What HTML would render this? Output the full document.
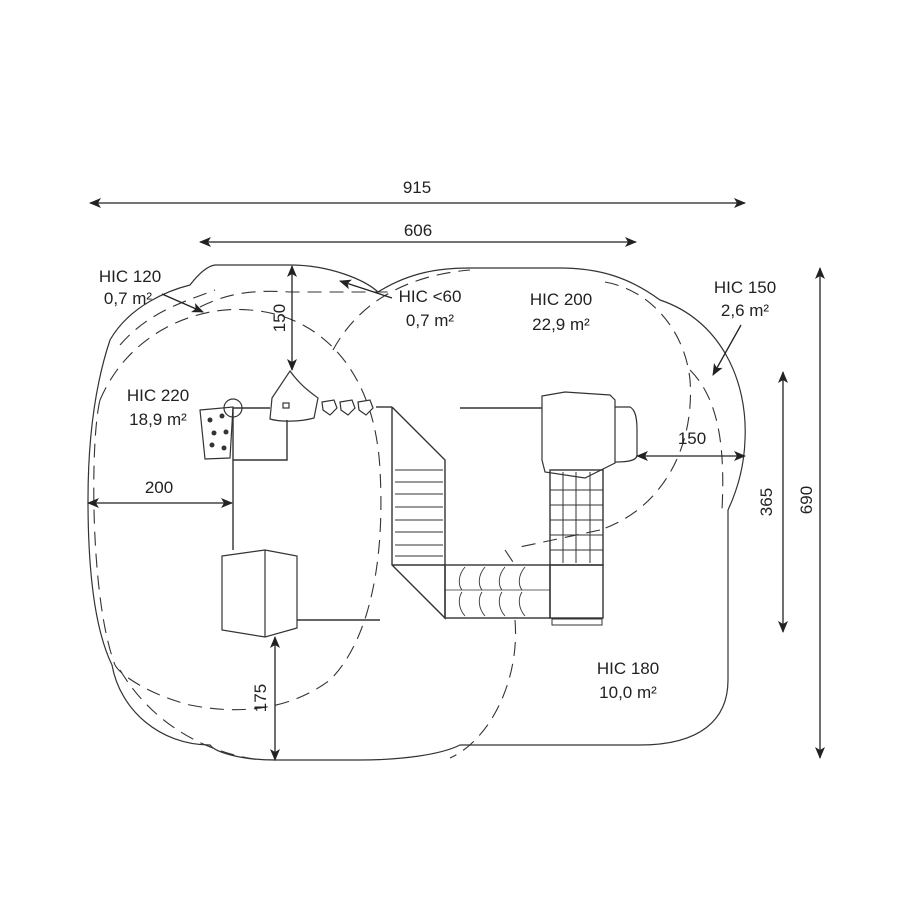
<!DOCTYPE html>
<html><head><meta charset="utf-8"><style>
html,body{margin:0;padding:0;background:#fff}
svg{display:block}
text{font-family:"Liberation Sans",sans-serif;font-size:17px;fill:#222}
</style></head><body>
<svg width="900" height="900" viewBox="0 0 900 900" xmlns="http://www.w3.org/2000/svg">
<defs>
<marker id="a" markerWidth="12" markerHeight="10" refX="11" refY="5" orient="auto-start-reverse" markerUnits="userSpaceOnUse">
<path d="M0,0 L12,5 L0,10 L3,5 Z" fill="#222"/></marker>
</defs>
<g stroke="#333" stroke-width="1.2" fill="none">
<path d="M215,265 L290,265 C330,265 365,280 378,292 C410,272 440,268 470,268 L560,268 C600,268 630,278 660,300 C720,320 748,380 745,440 C744,470 735,495 728,510 L728,680 C728,720 700,745 640,745 L460,745 C440,755 400,760 360,760 L275,760 C240,760 215,752 210,745 C160,745 120,710 112,665 C95,630 88,570 88,500 C88,420 100,370 110,340 C130,305 170,290 190,285 C200,272 208,266 215,265 Z"/>
</g>
<g stroke="#333" stroke-width="1.1" fill="none" stroke-dasharray="14,8">
<path d="M100,400 C130,330 200,305 250,310 C320,315 375,370 380,470 C385,560 370,640 330,680 C290,710 240,715 190,705 C150,695 120,675 115,665"/>
<path d="M100,400 C90,440 90,600 115,665"/>
<path d="M200,307 C230,292 255,290 290,292 L390,292"/>
<path d="M120,345 C150,310 190,300 215,290"/>
<path d="M333,350 C360,300 410,275 470,270"/>
<path d="M605,282 C650,290 685,330 690,380 C695,450 660,510 600,530"/>
<path d="M690,370 C720,400 725,450 722,510"/>
<path d="M600,530 L515,548"/>
<path d="M505,550 L515,565"/>
<path d="M515,620 C520,680 490,740 450,758"/>
<path d="M120,670 C150,720 200,752 260,760"/>
</g>
<g stroke="#222" stroke-width="1.3" fill="none">
<line x1="90" y1="203" x2="745" y2="203" marker-start="url(#a)" marker-end="url(#a)"/>
<line x1="200" y1="242" x2="636" y2="242" marker-start="url(#a)" marker-end="url(#a)"/>
<line x1="292" y1="266" x2="292" y2="370" marker-start="url(#a)" marker-end="url(#a)"/>
<line x1="88" y1="503" x2="232" y2="503" marker-start="url(#a)" marker-end="url(#a)"/>
<line x1="275" y1="637" x2="275" y2="760" marker-start="url(#a)" marker-end="url(#a)"/>
<line x1="637" y1="456" x2="745" y2="456" marker-start="url(#a)" marker-end="url(#a)"/>
<line x1="783" y1="372" x2="783" y2="632" marker-start="url(#a)" marker-end="url(#a)"/>
<line x1="820" y1="268" x2="820" y2="758" marker-start="url(#a)" marker-end="url(#a)"/>
<line x1="162" y1="294" x2="203" y2="312" marker-end="url(#a)"/>
<line x1="392" y1="298" x2="340" y2="281" marker-end="url(#a)"/>
<line x1="741" y1="325" x2="713" y2="375" marker-end="url(#a)"/>
</g>
<g stroke="#333" stroke-width="1.2" fill="#fff">
<path d="M290,371 C300,385 310,392 318,398 L314,418 C300,422 280,422 270,419 L272,398 Z"/>
<rect x="283" y="403" width="6" height="5"/>
<path d="M322,402 L334,400 L337,408 L330,415 L323,410 Z"/>
<path d="M340,402 L352,400 L355,408 L348,415 L341,410 Z"/>
<path d="M358,402 L370,400 L373,408 L366,415 L359,410 Z"/>
<path d="M200,410 L233,407 L230,458 L205,459 Z"/>
<circle cx="233" cy="408" r="9" fill="none"/>
<path d="M542,396 L565,392 L610,395 L615,400 L615,463 L585,478 L545,472 L542,460 Z"/>
<path d="M615,407 L630,407 C636,410 637,420 637,430 L637,455 C637,460 630,462 615,462" fill="none"/>
<path d="M222,556 L265,550 L297,556 L297,628 L265,637 L222,630 Z"/>
<line x1="265" y1="550" x2="265" y2="637"/>
</g>
<g stroke="#333" stroke-width="1.4" fill="none">
<polyline points="233,408 270,408"/><polyline points="376,407 392,407"/>
<polyline points="233,408 233,550"/><polyline points="233,460 287,460 287,420"/>
<polyline points="297,620 380,620"/>
<polyline points="460,408 542,408"/>
<polyline points="392,407 392,565 445,618 445,565 445,460 392,407"/>
<polyline points="392,565 445,565"/>
<path d="M395,470 L443,470 M395,482 L443,482 M395,494 L443,494 M395,507 L443,507 M395,520 L443,520 M395,532 L443,532 M395,545 L443,545 M395,556 L443,556" stroke-width="1"/>
<rect x="445" y="565" width="105" height="53"/>
<line x1="445" y1="590" x2="550" y2="590" stroke-width="0.8"/>
<path d="M465,567 C458,575 458,585 462,590 M485,567 C478,575 478,585 482,590 M505,567 C498,575 498,585 502,590 M525,567 C518,575 518,585 522,590 M465,616 C458,608 458,598 462,592 M485,616 C478,608 478,598 482,592 M505,616 C498,608 498,598 502,592 M525,616 C518,608 518,598 522,592" stroke-width="0.9"/>
<rect x="550" y="565" width="53" height="53"/>
<rect x="550" y="470" width="53" height="95"/>
<path d="M563,472 V563 M576,472 V563 M590,472 V563 M550,490 H603 M550,505 H603 M550,520 H603 M550,535 H603 M550,550 H603" stroke-width="1"/>
<rect x="552" y="619" width="50" height="6" stroke-width="1"/>
</g>
<g fill="#333">
<circle cx="210" cy="420" r="2.5"/><circle cx="222" cy="416" r="2.5"/><circle cx="214" cy="433" r="2.5"/><circle cx="226" cy="432" r="2.5"/><circle cx="212" cy="445" r="2.5"/><circle cx="224" cy="448" r="2.5"/>
</g>
<text x="417" y="193" text-anchor="middle">915</text>
<text x="418" y="236" text-anchor="middle">606</text>
<text x="130" y="282" text-anchor="middle">HIC 120</text>
<text x="128" y="304" text-anchor="middle">0,7 m²</text>
<text x="430" y="302" text-anchor="middle">HIC &lt;60</text>
<text x="430" y="326" text-anchor="middle">0,7 m²</text>
<text x="561" y="305" text-anchor="middle">HIC 200</text>
<text x="561" y="330" text-anchor="middle">22,9 m²</text>
<text x="745" y="293" text-anchor="middle">HIC 150</text>
<text x="745" y="316" text-anchor="middle">2,6 m²</text>
<text x="158" y="401" text-anchor="middle">HIC 220</text>
<text x="158" y="425" text-anchor="middle">18,9 m²</text>
<text x="159" y="493" text-anchor="middle">200</text>
<text x="692" y="444" text-anchor="middle">150</text>
<text x="628" y="674" text-anchor="middle">HIC 180</text>
<text x="628" y="698" text-anchor="middle">10,0 m²</text>
<text transform="translate(285,318) rotate(-90)" text-anchor="middle">150</text>
<text transform="translate(266,698) rotate(-90)" text-anchor="middle">175</text>
<text transform="translate(772,502) rotate(-90)" text-anchor="middle">365</text>
<text transform="translate(812,500) rotate(-90)" text-anchor="middle">690</text>
</svg>
</body></html>
